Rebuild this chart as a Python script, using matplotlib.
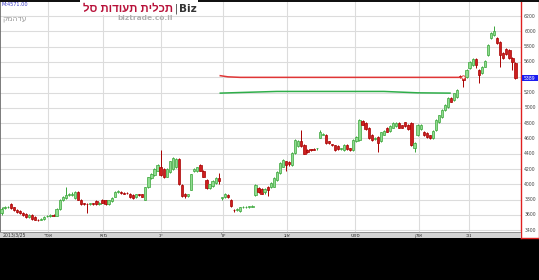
import matplotlib
matplotlib.use('Agg')
import matplotlib.pyplot as plt
from matplotlib.patches import Rectangle

# Chart colors
candle_green = '#8fdc8f'
candle_green_edge = '#3aa53a'
candle_red = '#cc1f1f'
candle_red_edge = '#a80000'
grid_gray = '#dcdcdc'

# Daily candles (open, close, high, low)
opens = [3620, 3690, 3700, 3740, 3700, 3670, 3650, 3630, 3610, 3570, 3600, 3570, 3540, 3540, 3550, 3580,
         3580, 3600, 3590, 3680, 3790, 3820, 3860, 3860, 3820, 3900, 3800, 3750, 3745, 3740, 3750, 3780,
         3740, 3800, 3790, 3740, 3780, 3840, 3900, 3900, 3890, 3890, 3880, 3860, 3830, 3870, 3870, 3800,
         3960, 4080, 4120, 4180, 4220, 4200, 4100, 4160, 4200, 4220, 4330, 3990, 3880, 3850, 3930, 4170,
         4170, 4250, 4180, 4060, 3950, 3980, 4020, 4080, 3820, 3830, 3860, 3800, 3670, 3660, 3650, 3700,
         3700, 3705, 3710, 3860, 3950, 3940, 3900, 3970, 3960, 3970, 4060, 4150, 4230, 4300, 4290, 4250,
         4410, 4500, 4570, 4520, 4450, 4455, 4460, 4470, 4610, 4650, 4650, 4560, 4520, 4510, 4500, 4460,
         4450, 4520, 4470, 4450, 4560, 4580, 4830, 4800, 4740, 4650, 4590, 4620, 4560, 4650, 4740, 4700,
         4740, 4760, 4800, 4770, 4810, 4780, 4800, 4470, 4640, 4720, 4690, 4670, 4640, 4600, 4710, 4810,
         4880, 4970, 5010, 5130, 5100, 5140, 5420, 5400, 5400, 5520, 5560, 5640, 5500, 5450, 5540, 5690,
         5910, 5950, 5910, 5860, 5720, 5770, 5760, 5650, 5590]
closes = [3680, 3700, 3705, 3690, 3660, 3640, 3620, 3600, 3570, 3600, 3550, 3540, 3530, 3550, 3570, 3585,
          3600, 3590, 3680, 3800, 3830, 3860, 3870, 3880, 3900, 3800, 3740, 3740, 3740, 3750, 3745, 3740,
          3760, 3760, 3740, 3790, 3820, 3900, 3910, 3890, 3880, 3885, 3830, 3820, 3870, 3860, 3840, 3960,
          4090, 4140, 4200, 4250, 4120, 4090, 4200, 4300, 4350, 4330, 4000, 3850, 3850, 3870, 4130, 4200,
          4220, 4180, 4100, 3950, 4000, 4050, 4080, 4050, 3825, 3880, 3830, 3720, 3660, 3680, 3700, 3705,
          3700, 3710, 3715, 3990, 3900, 3880, 3940, 3930, 4020, 4080, 4160, 4280, 4320, 4250, 4260, 4410,
          4580, 4570, 4500, 4400, 4420, 4450, 4455, 4475, 4680, 4655, 4540, 4540, 4515, 4450, 4460, 4470,
          4520, 4460, 4450, 4580, 4620, 4840, 4780, 4720, 4600, 4580, 4600, 4540, 4680, 4700, 4690, 4760,
          4800, 4800, 4740, 4740, 4760, 4720, 4510, 4540, 4780, 4780, 4640, 4620, 4600, 4700, 4840, 4900,
          4970, 5040, 5130, 5080, 5190, 5230, 5400, 5360, 5500, 5600, 5640, 5560, 5430, 5540, 5610, 5820,
          5980, 6010, 5850, 5690, 5650, 5700, 5650, 5600, 5389]
highs = [3700, 3720, 3720, 3750, 3710, 3680, 3660, 3640, 3620, 3610, 3610, 3580, 3550, 3560, 3580, 3600,
         3610, 3610, 3690, 3810, 3850, 3960, 3890, 3900, 3910, 3910, 3810, 3760, 3760, 3760, 3760, 3790,
         3770, 3810, 3800, 3800, 3830, 3910, 3920, 3910, 3900, 3900, 3890, 3870, 3880, 3880, 3880, 3970,
         4100, 4150, 4210, 4260, 4450, 4210, 4210, 4310, 4360, 4340, 4340, 4000, 3890, 3880, 4140, 4210,
         4230, 4260, 4190, 4070, 4010, 4060, 4090, 4150, 3840, 3890, 3870, 3810, 3680, 3690, 3710, 3720,
         3720, 3720, 3730, 4000, 3960, 3950, 3950, 3980, 4030, 4090, 4170, 4290, 4330, 4310, 4300, 4420,
         4590, 4580, 4710, 4530, 4460, 4465, 4470, 4480, 4710, 4670, 4660, 4570, 4530, 4520, 4510, 4480,
         4530, 4530, 4480, 4590, 4630, 4850, 4840, 4810, 4750, 4660, 4620, 4630, 4690, 4710, 4750, 4770,
         4810, 4810, 4810, 4780, 4820, 4790, 4810, 4550, 4790, 4790, 4700, 4680, 4650, 4710, 4850, 4910,
         4980, 5050, 5140, 5140, 5200, 5240, 5430, 5410, 5510, 5610, 5650, 5650, 5510, 5550, 5620, 5830,
         5990, 6070, 5920, 5870, 5730, 5780, 5770, 5660, 5600]
lows = [3600, 3680, 3690, 3680, 3650, 3630, 3610, 3590, 3560, 3560, 3540, 3530, 3520, 3530, 3540, 3570,
        3570, 3580, 3580, 3670, 3780, 3810, 3850, 3850, 3810, 3790, 3730, 3730, 3620, 3730, 3735, 3730,
        3730, 3750, 3730, 3730, 3770, 3830, 3890, 3880, 3870, 3870, 3820, 3810, 3820, 3850, 3830, 3790,
        3950, 4070, 4110, 4170, 4110, 4080, 4090, 4150, 4190, 4210, 3990, 3830, 3820, 3840, 3920, 4160,
        4160, 4170, 4090, 3940, 3940, 3970, 4010, 4010, 3800, 3820, 3820, 3710, 3640, 3650, 3640, 3690,
        3690, 3695, 3700, 3850, 3890, 3870, 3880, 3850, 3950, 3960, 4050, 4140, 4220, 4170, 4240, 4240,
        4400, 4490, 4490, 4390, 4410, 4440, 4445, 4450, 4600, 4640, 4530, 4530, 4500, 4440, 4450, 4450,
        4440, 4450, 4440, 4440, 4550, 4570, 4770, 4710, 4590, 4570, 4580, 4420, 4550, 4640, 4680, 4690,
        4730, 4750, 4730, 4730, 4750, 4710, 4500, 4420, 4630, 4710, 4630, 4610, 4590, 4590, 4700, 4800,
        4870, 4960, 5000, 5070, 5090, 5130, 5390, 5270, 5390, 5510, 5550, 5520, 5320, 5440, 5530, 5680,
        5900, 5940, 5840, 5530, 5640, 5690, 5640, 5500, 5380]

# Reference lines (candle index, price)
red_line_x = [71.5, 74, 78, 150.8]
red_line_y = [5420, 5405, 5398, 5398]
green_line_x = [71.5, 78, 90, 125, 136, 146.6]
green_line_y = [5192, 5200, 5214, 5214, 5196, 5192]

# Axis labels
y_ticks = [3400, 3600, 3800, 4000, 4200, 4400, 4600, 4800, 5000, 5200, 5400, 5600, 5800, 6000, 6200]
month_pos = [15.2, 33.2, 52.1, 72.4, 93.3, 115.5, 136.4, 152.8]
month_labels = ['אפר', 'מאי', 'יונ', 'יול', 'אוג', 'ספט', 'אוק', 'נוב']
start_label = '2013/3/25'
last_price = 5389


def rtl(s):
    # matplotlib draws left to right, so flip Hebrew text for display
    return s[::-1]


W, H = 539, 280
fig = plt.figure(figsize=(W / 100, H / 100), dpi=100)
fig.patch.set_facecolor('black')

# main chart area
ax = fig.add_axes([0, (H - 232) / H, 521 / W, 230 / H])
ax.set_facecolor('white')
for s in ax.spines.values():
    s.set_visible(False)
ax.spines['left'].set_visible(True)
ax.spines['left'].set_color('#666666')
ax.spines['left'].set_linewidth(1.2)

ax.set_xlim(-0.5, 169.8)
ax.set_ylim(3377, 6383)
ax.set_yticks(y_ticks)
ax.set_xticks(month_pos)
ax.grid(True, color=grid_gray, linewidth=0.8)
ax.set_axisbelow(True)
ax.tick_params(length=0, labelleft=False, labelbottom=False)

# candles
for i in range(len(opens)):
    o, c, h, l = opens[i], closes[i], highs[i], lows[i]
    if c >= o:
        face, edge = candle_green, candle_green_edge
    else:
        face, edge = candle_red, candle_red_edge
    ax.vlines(i, l, h, color=edge, linewidth=0.7, zorder=2)
    body = max(abs(c - o), 8)
    ax.bar(i, body, bottom=min(o, c), width=0.74, color=face, edgecolor=edge, linewidth=0.5, zorder=3)

ax.plot(red_line_x, red_line_y, color='#e03636', linewidth=1.1, zorder=4)
ax.plot(red_line_x[-1], red_line_y[-1], marker='o', markersize=2.5, markerfacecolor='white',
        markeredgecolor='#e03636', markeredgewidth=0.6, zorder=5)
ax.plot(green_line_x, green_line_y, color='#2fae4a', linewidth=1.1, zorder=4)

# right price axis strip
rax = fig.add_axes([521 / W, (H - 238) / H, 18 / W, 238 / H])
rax.set_facecolor('white')
rax.set_xlim(0, 1)
rax.set_ylim(3377 - 6 * 13.07, 6383 + 2 * 13.07)
rax.set_xticks([])
rax.set_yticks([])
for s in rax.spines.values():
    s.set_color('#e02020')
    s.set_linewidth(1.0)
for v in y_ticks:
    rax.text(0.5, v, str(v), ha='center', va='center', fontsize=3.3, color='#444444')
rax.add_patch(Rectangle((0.03, last_price - 45), 0.94, 90, facecolor='#1c1cf0', edgecolor='none', zorder=3))
rax.text(0.5, last_price, str(last_price), ha='center', va='center', fontsize=3.3, color='white', zorder=4)

# bottom date strip
bax = fig.add_axes([0, (H - 238) / H, 521 / W, 6 / H])
bax.set_facecolor('#d4d4d4')
bax.set_xlim(ax.get_xlim())
bax.set_ylim(0, 1)
bax.set_xticks([])
bax.set_yticks([])
for s in bax.spines.values():
    s.set_visible(False)
bax.axhline(1, color='#888888', linewidth=1.2)
bax.text(0.2, 0.45, start_label, ha='left', va='center', fontsize=3.3, color='#333333')
for p, lab in zip(month_pos, month_labels):
    bax.text(p, 0.45, rtl(lab), ha='center', va='center', fontsize=3.6, color='#333333')

# top bar and logo
fig.patches.append(Rectangle((0, 1 - 2 / H), 1, 2 / H, transform=fig.transFigure,
                             facecolor='#111111', edgecolor='none', zorder=5))
fig.patches.append(Rectangle((80 / W, 1 - 15 / H), 118 / W, 15 / H, transform=fig.transFigure,
                             facecolor='white', edgecolor='none', zorder=6))
fig.text(2 / W, 1 - 4.5 / H, 'M:4571.00', fontsize=3.6, color='#3b3bc8', va='center', ha='left', zorder=7)
fig.text(173 / W, 1 - 8.5 / H, rtl('תכלית תעודות סל'), fontsize=8.2, fontweight='bold',
         family='Liberation Sans', color='#b8123a', ha='right', va='center', zorder=7)
fig.text(175 / W, 1 - 8.5 / H, '|', fontsize=7, color='#333333', ha='left', va='center', zorder=7)
fig.text(179 / W, 1 - 9 / H, 'Biz', fontsize=7.5, fontweight='bold', color='#333333',
         ha='left', va='center', zorder=7)
fig.text(145 / W, 1 - 18.5 / H, 'biztrade.co.il', fontsize=5.3, fontweight='bold', color='#b0b0b0',
         ha='center', va='center', zorder=7)
fig.text(2 / W, 1 - 18 / H, rtl('עדהמק'), fontsize=5.5, color='#9a9a9a', ha='left', va='center', zorder=7)

fig.savefig('out.png', dpi=100, facecolor=fig.get_facecolor())
